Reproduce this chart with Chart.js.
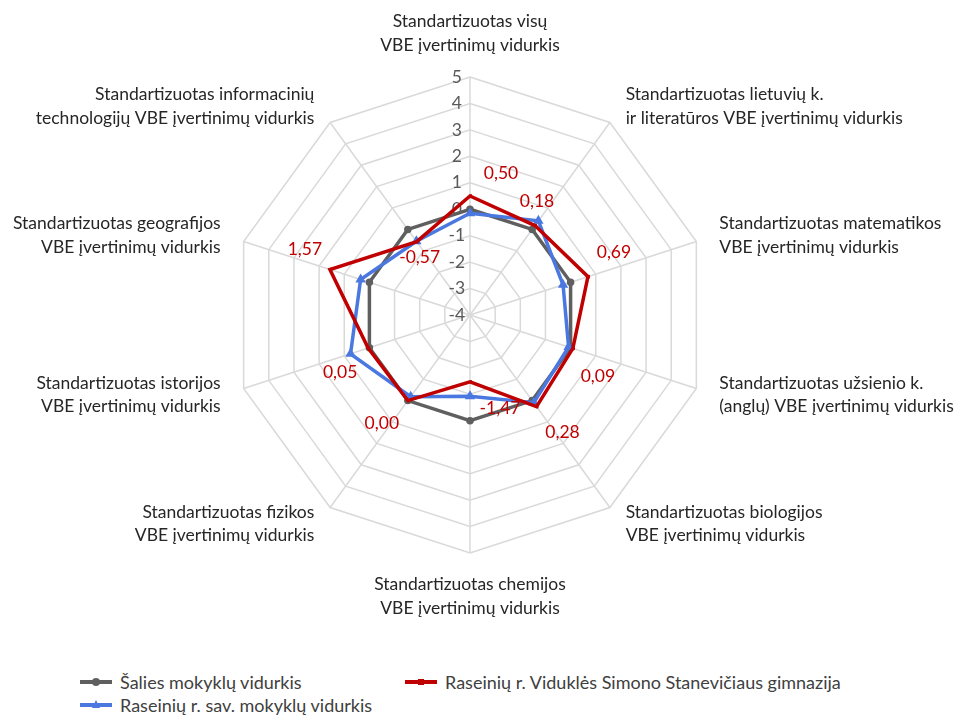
<!DOCTYPE html>
<html>
<head>
<meta charset="utf-8">
<script src="https://cdn.jsdelivr.net/npm/chart.js@4"></script>
<style>
  body { margin: 0; background: #fff; font-family: Lato, sans-serif; }
  #wrap { position: relative; width: 961px; height: 715px; }
  #myChart { position: absolute; left: 0; top: 0; }
  .leg { position: absolute; font-size: 18px; color: #404040; display: flex; align-items: center; }
  .leg .sym { position: relative; width: 32px; height: 4px; margin-right: 8px; }
  .leg .mk { position: absolute; left: 12px; top: -2px; width: 8px; height: 8px; }
</style>
</head>
<body>
<div id="wrap">
  <canvas id="myChart" width="961" height="650"></canvas>
  <div id="legend"></div>
</div>
<script>
const categories = [
    ['Standartizuotas visų', 'VBE įvertinimų vidurkis'],
    ['Standartizuotas lietuvių k.', 'ir literatūros VBE įvertinimų vidurkis'],
    ['Standartizuotas matematikos', 'VBE įvertinimų vidurkis'],
    ['Standartizuotas užsienio k.', '(anglų) VBE įvertinimų vidurkis'],
    ['Standartizuotas biologijos', 'VBE įvertinimų vidurkis'],
    ['Standartizuotas chemijos', 'VBE įvertinimų vidurkis'],
    ['Standartizuotas fizikos', 'VBE įvertinimų vidurkis'],
    ['Standartizuotas istorijos', 'VBE įvertinimų vidurkis'],
    ['Standartizuotas geografijos', 'VBE įvertinimų vidurkis'],
    ['Standartizuotas informacinių', 'technologijų VBE įvertinimų vidurkis']
]
const salies = [0, 0, 0, 0, 0, 0, 0, 0, 0, 0]
const rajono = [-0.15, 0.40, -0.30, -0.08, 0.10, -0.93, -0.18, 0.75, 0.35, -0.55]
const gimnazija = [0.50, 0.18, 0.69, 0.09, 0.28, -1.47, 0.00, 0.05, 1.57, -0.57]
const tickValues = [-4, -3, -2, -1, 0, 1, 2, 3, 4, 5]

const seriesNames = ['Šalies mokyklų vidurkis', 'Raseinių r. Viduklės Simono Stanevičiaus gimnazija', 'Raseinių r. sav. mokyklų vidurkis']

// where the red value labels sit relative to their points
const labelOffsets = [[31, -23], [2, -24], [26, -24], [25, 28], [26, 26], [30, 26], [-26, 23], [-28, 24], [-25, -20], [3, 16]]

const GREY = '#5f5f5f'
const BLUE = '#4a78e0'
const RED = '#c00000'
const FONT = 'Lato, sans-serif'
const FSIZE = 17.5
const LINE_H = 23.5

const fmt = v => v.toFixed(2).replace('.', ',')

// category labels placed like Excel does it: outside the ring, sides centred vertically
const axisLabels = {
    id: 'axisLabels',
    afterDraw(chart){
        const ctx = chart.ctx
        const scale = chart.scales.r
        ctx.save()
        ctx.font = `${FSIZE}px ${FONT}`
        ctx.fillStyle = '#262626'
        ctx.textBaseline = 'middle'
        categories.forEach((lines, i) => {
            const p = scale.getPointPosition(i, scale.drawingArea + 20)
            const deg = i * 360 / categories.length
            const blockH = lines.length * LINE_H
            let x = p.x
            let top
            if(deg === 0){
                ctx.textAlign = 'center'
                top = p.y - blockH
            } else if(deg === 180){
                ctx.textAlign = 'center'
                top = p.y
            } else if(deg < 180){
                ctx.textAlign = 'left'
                x += 4
                top = p.y - blockH / 2
            } else {
                ctx.textAlign = 'right'
                x -= 4
                top = p.y - blockH / 2
            }
            lines.forEach((t, k) => ctx.fillText(t, x, top + LINE_H * (k + 0.5)))
        })
        ctx.restore()
    }
}

const valueLabels = {
    id: 'valueLabels',
    afterDatasetsDraw(chart){
        const ctx = chart.ctx
        const meta = chart.getDatasetMeta(1)
        ctx.save()
        ctx.font = `${FSIZE}px ${FONT}`
        ctx.fillStyle = RED
        ctx.textAlign = 'center'
        ctx.textBaseline = 'middle'
        meta.data.forEach((pt, i) => {
            const off = labelOffsets[i]
            ctx.fillText(fmt(gimnazija[i]), pt.x + off[0], pt.y + off[1])
        })
        ctx.restore()
    }
}

const ctx = document.getElementById('myChart')
new Chart(ctx, {
    type: 'radar',
    data: {
        labels: categories,
        datasets: [{
            label: seriesNames[0],
            data: salies,
            borderColor: GREY,
            backgroundColor: GREY,
            borderWidth: 3.5,
            pointStyle: 'circle',
            pointRadius: 2,
            fill: false,
            order: 3
        }, {
            label: seriesNames[1],
            data: gimnazija,
            borderColor: RED,
            backgroundColor: RED,
            borderWidth: 3.5,
            pointStyle: 'dash',
            pointRadius: 2,
            fill: false,
            order: 1
        }, {
            label: seriesNames[2],
            data: rajono,
            borderColor: BLUE,
            backgroundColor: BLUE,
            borderWidth: 3.5,
            pointStyle: 'triangle',
            pointRadius: 2.5,
            fill: false,
            order: 2
        }]
    },
    options: {
        responsive: false,
        animation: false,
        layout: { padding: { top: 66, bottom: 86, left: 200, right: 221 } },
        elements: { line: { tension: 0 } },
        scales: {
            r: {
                min: -4,
                max: 5,
                ticks: {
                    stepSize: 1,
                    showLabelBackdrop: false,
                    color: '#595959',
                    font: { family: FONT, size: FSIZE },
                    callback: v => tickValues.includes(v) ? String(v) + '\u2003\u2003' : ''
                },
                grid: { color: '#d9d9d9', lineWidth: 1.5 },
                angleLines: { color: '#d9d9d9', lineWidth: 1.5 },
                pointLabels: { display: false }
            }
        },
        plugins: {
            legend: { display: false },
            tooltip: { enabled: false }
        }
    },
    plugins: [axisLabels, valueLabels]
})

// legend laid out like the original, two columns
const legendItems = [
    { name: seriesNames[0], color: GREY, x: 80, y: 671, mk: 'circle' },
    { name: seriesNames[1], color: RED, x: 405, y: 671, mk: 'dash' },
    { name: seriesNames[2], color: BLUE, x: 80, y: 694, mk: 'triangle' }
]
const legendEl = document.getElementById('legend')
legendItems.forEach(item => {
    const d = document.createElement('div')
    d.className = 'leg'
    d.style.left = item.x + 'px'
    d.style.top = item.y + 'px'
    let mk = ''
    if(item.mk === 'circle'){
        mk = `<div class="mk" style="background:${item.color};border-radius:50%"></div>`
    } else if(item.mk === 'triangle'){
        mk = `<div class="mk" style="width:0;height:0;background:none;border-left:4px solid transparent;border-right:4px solid transparent;border-bottom:8px solid ${item.color};top:-3px"></div>`
    } else {
        mk = `<div class="mk" style="background:${item.color};height:6px;top:-1px;width:6px;left:13px"></div>`
    }
    d.innerHTML = `<div class="sym" style="background:${item.color}">${mk}</div><span>${item.name}</span>`
    legendEl.appendChild(d)
})
</script>
</body>
</html>
